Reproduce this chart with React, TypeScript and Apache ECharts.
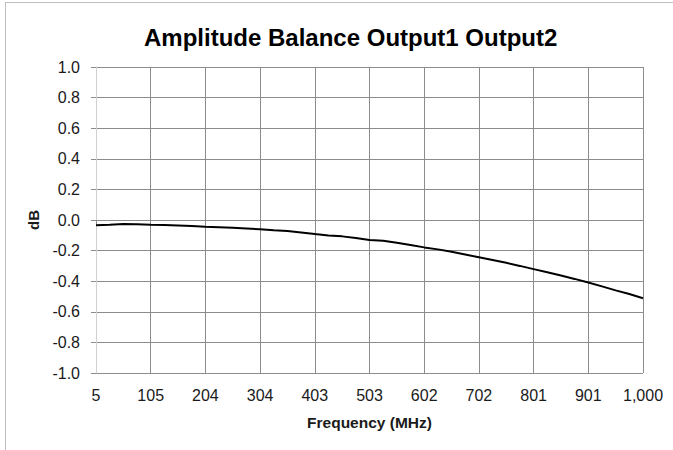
import React, { useEffect, useRef } from "react";
import * as echarts from "echarts";

const TITLE = "Amplitude Balance Output1 Output2";
const X_NAME = "Frequency (MHz)";
const Y_NAME = "dB";

const frequencies = [
  5.0, 29.9, 54.8, 79.6, 104.5, 129.4, 154.3, 179.1, 204.0, 228.9,
  253.8, 278.6, 303.5, 328.4, 353.3, 378.1, 403.0, 427.9, 452.8, 477.6,
  502.5, 527.4, 552.3, 577.1, 602.0, 626.9, 651.8, 676.6, 701.5, 726.4,
  751.3, 776.1, 801.0, 825.9, 850.8, 875.6, 900.5, 925.4, 950.3, 975.1,
  1000.0,
];

const amplitudeDb = [
  -0.034, -0.031, -0.026, -0.028, -0.031, -0.033, -0.036, -0.040, -0.044, -0.047,
  -0.050, -0.055, -0.061, -0.067, -0.072, -0.081, -0.092, -0.101, -0.107, -0.118,
  -0.130, -0.136, -0.149, -0.163, -0.179, -0.192, -0.208, -0.226, -0.244, -0.262,
  -0.280, -0.300, -0.321, -0.342, -0.363, -0.385, -0.409, -0.434, -0.460, -0.484,
  -0.511,
];

const xTickValues = [5, 104.5, 204, 303.5, 403, 502.5, 602, 701.5, 801, 900.5, 1000];
const xTickLabels = ["5", "105", "204", "304", "403", "503", "602", "702", "801", "901", "1,000"];

const FONT = "'Liberation Sans', Arial, sans-serif";
const GRID_COLOR = "#8c8c8c";
const TEXT_COLOR = "#1a1a1a";

export default function App() {
  const ref = useRef<HTMLDivElement>(null);

  useEffect(() => {
    if (!ref.current) return;
    const chart = echarts.init(ref.current, undefined, { renderer: "svg" });
    const data = frequencies.map((f, i) => [f, amplitudeDb[i]]);
    chart.setOption({
      animation: false,
      backgroundColor: "#ffffff",
      title: {
        text: TITLE,
        left: 139,
        top: 20,
        textStyle: { fontFamily: FONT, fontSize: 24, fontWeight: "bold", color: "#000" },
      },
      grid: { left: 96, right: 30, top: 67, bottom: 77, containLabel: false },
      xAxis: {
        type: "value",
        min: 5,
        max: 1000,
        name: X_NAME,
        nameLocation: "middle",
        nameGap: 41,
        nameTextStyle: { fontFamily: FONT, fontSize: 15.5, fontWeight: "bold", color: TEXT_COLOR },
        axisLine: { show: false },
        axisTick: {
          show: true,
          length: 5,
          customValues: xTickValues,
          lineStyle: { color: GRID_COLOR },
        },
        axisLabel: {
          customValues: xTickValues,
          margin: 14,
          fontFamily: FONT,
          fontSize: 16,
          color: TEXT_COLOR,
          formatter: (v: number) => {
            const idx = xTickValues.indexOf(v);
            return idx >= 0 ? xTickLabels[idx] : "";
          },
        },
        splitLine: { show: true, lineStyle: { color: GRID_COLOR, width: 1 } },
      },
      yAxis: {
        type: "value",
        min: -1,
        max: 1,
        interval: 0.2,
        name: Y_NAME,
        nameLocation: "middle",
        nameGap: 55,
        nameRotate: 90,
        nameTextStyle: { fontFamily: FONT, fontSize: 15, fontWeight: "bold", color: TEXT_COLOR },
        axisLine: { show: true, lineStyle: { color: "#d0d0d0", width: 1 } },
        axisTick: { show: true, inside: false, length: 5, lineStyle: { color: GRID_COLOR } },
        axisLabel: {
          margin: 16,
          fontFamily: FONT,
          fontSize: 16,
          color: TEXT_COLOR,
          formatter: (v: number) => v.toFixed(1),
        },
        splitLine: { show: true, lineStyle: { color: GRID_COLOR, width: 1 } },
      },
      graphic: [
        { type: "line", shape: { x1: 5.5, y1: 2, x2: 5.5, y2: 450 }, style: { stroke: "#bfbfbf", lineWidth: 1 }, silent: true },
        { type: "line", shape: { x1: 5, y1: 2.5, x2: 673, y2: 2.5 }, style: { stroke: "#bfbfbf", lineWidth: 1 }, silent: true },
      ],
      series: [
        {
          type: "line",
          data,
          showSymbol: false,
          symbol: "none",
          lineStyle: { color: "#000000", width: 2 },
          z: 5,
        },
      ],
    });
    return () => chart.dispose();
  }, []);

  return (
    <div
      ref={ref}
      style={{ position: "fixed", left: 0, top: 0, width: 673, height: 450 }}
    />
  );
}
